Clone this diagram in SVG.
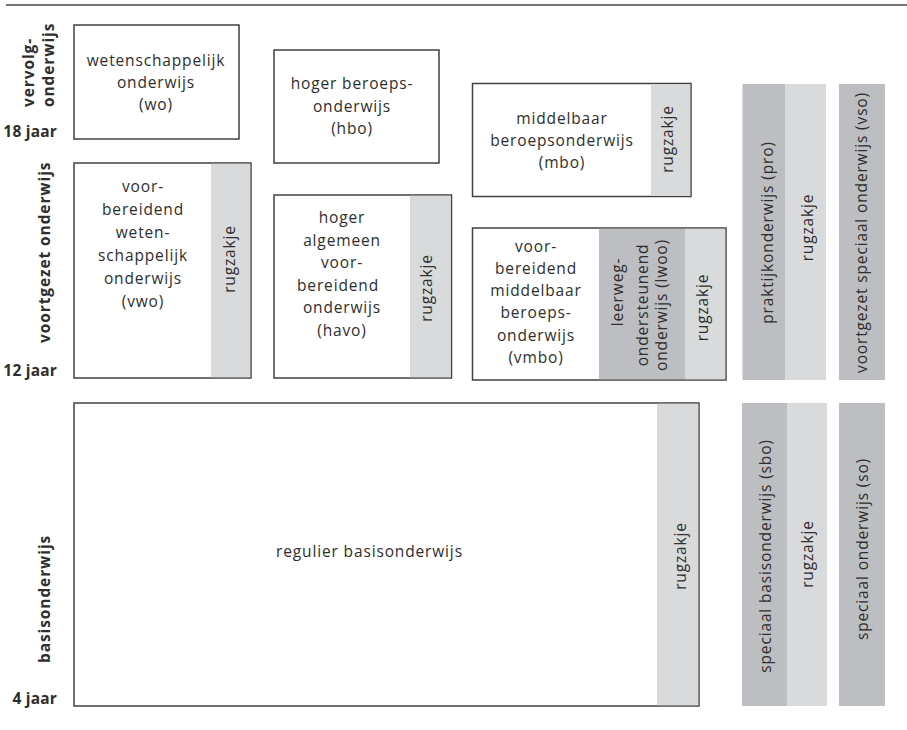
<svg xmlns="http://www.w3.org/2000/svg" width="907" height="730" viewBox="0 0 907 730">
  <style>
    .box { fill: #ffffff; stroke: #404040; stroke-width: 1.5; }
    .light { fill: #d9dadc; }
    .dark { fill: #bdbec1; }
    .t { font-family: "Open Sans", "Noto Sans", "Liberation Sans", sans-serif; font-size: 15.5px; letter-spacing: 0.85px; fill: #2e2e2e; text-anchor: middle; }
    .lbl { font-family: "Open Sans", "Noto Sans", "Liberation Sans", sans-serif; font-size: 15.5px; font-weight: bold; letter-spacing: 0.9px; fill: #2e2e2e; }
    .age { letter-spacing: 0.2px; text-anchor: end; }
  </style>

  <!-- top rule -->
  <line x1="6" y1="5" x2="907" y2="5" stroke="#444444" stroke-width="1.5"/>

  <!-- age axis labels -->
  <g id="axis">
    <text class="lbl" transform="translate(33.5,107) rotate(-90)">vervolg-</text>
    <text class="lbl" transform="translate(54,107) rotate(-90)">onderwijs</text>
    <text class="lbl age" x="57" y="137">18 jaar</text>
    <text class="lbl" transform="translate(50,343) rotate(-90)">voortgezet onderwijs</text>
    <text class="lbl age" x="57" y="376">12 jaar</text>
    <text class="lbl" transform="translate(50,663) rotate(-90)">basisonderwijs</text>
    <text class="lbl age" x="57" y="704">4 jaar</text>
  </g>

  <!-- higher education -->
  <g id="wo">
    <rect class="box" x="74" y="25" width="165" height="114"/>
    <text class="t" x="156" y="66">wetenschappelijk</text>
    <text class="t" x="156" y="88">onderwijs</text>
    <text class="t" x="156" y="110">(wo)</text>
  </g>

  <g id="hbo">
    <rect class="box" x="274" y="50" width="165" height="113"/>
    <text class="t" x="352" y="89">hoger beroeps-</text>
    <text class="t" x="352" y="111.5">onderwijs</text>
    <text class="t" x="352" y="134">(hbo)</text>
  </g>

  <g id="mbo">
    <rect class="box" x="472.5" y="83.5" width="218.5" height="113"/>
    <rect class="light" x="651" y="84.25" width="39.25" height="111.5"/>
    <text class="t" x="562" y="124">middelbaar</text>
    <text class="t" x="562" y="146">beroepsonderwijs</text>
    <text class="t" x="562" y="168">(mbo)</text>
    <text class="t" transform="translate(673,139) rotate(-90)">rugzakje</text>
  </g>

  <!-- secondary education -->
  <g id="vwo">
    <rect class="box" x="74" y="163" width="177" height="215"/>
    <rect class="light" x="211" y="163.75" width="39.25" height="213.5"/>
    <text class="t" x="143" y="191.5">voor-</text>
    <text class="t" x="143" y="214.5">bereidend</text>
    <text class="t" x="143" y="237.5">weten-</text>
    <text class="t" x="143" y="260.5">schappelijk</text>
    <text class="t" x="143" y="283.5">onderwijs</text>
    <text class="t" x="143" y="306.5">(vwo)</text>
    <text class="t" transform="translate(234.5,259) rotate(-90)">rugzakje</text>
  </g>

  <g id="havo">
    <rect class="box" x="274" y="195" width="177.5" height="183"/>
    <rect class="light" x="410" y="195.75" width="40.75" height="181.5"/>
    <text class="t" x="342" y="223">hoger</text>
    <text class="t" x="342" y="245.5">algemeen</text>
    <text class="t" x="342" y="268">voor-</text>
    <text class="t" x="338" y="290.5">bereidend</text>
    <text class="t" x="342" y="313">onderwijs</text>
    <text class="t" x="342" y="335.5">(havo)</text>
    <text class="t" transform="translate(431.5,288) rotate(-90)">rugzakje</text>
  </g>

  <g id="vmbo">
    <rect class="box" x="472.5" y="228" width="253.5" height="152"/>
    <rect class="dark" x="599" y="228.75" width="86" height="150.5"/>
    <rect class="light" x="685" y="228.75" width="40.25" height="150.5"/>
    <text class="t" x="536" y="251.5">voor-</text>
    <text class="t" x="536" y="273.5">bereidend</text>
    <text class="t" x="536" y="296">middelbaar</text>
    <text class="t" x="536" y="318">beroeps-</text>
    <text class="t" x="536" y="340.5">onderwijs</text>
    <text class="t" x="536" y="363">(vmbo)</text>
    <text class="t" transform="translate(623,292) rotate(-90)">leerweg-</text>
    <text class="t" transform="translate(647.5,305) rotate(-90)">ondersteunend</text>
    <text class="t" transform="translate(667,305) rotate(-90)">onderwijs (lwoo)</text>
    <text class="t" transform="translate(708,307.5) rotate(-90)">rugzakje</text>
  </g>

  <g id="pro">
    <rect class="dark" x="742.5" y="84" width="42.5" height="296"/>
    <rect class="light" x="785" y="84" width="41" height="296"/>
    <text class="t" transform="translate(773,232.5) rotate(-90)">praktijkonderwijs (pro)</text>
    <text class="t" transform="translate(813,227.5) rotate(-90)">rugzakje</text>
  </g>

  <g id="vso">
    <rect class="dark" x="839" y="84" width="46" height="296"/>
    <text class="t" transform="translate(866.5,232.5) rotate(-90)">voortgezet speciaal onderwijs (vso)</text>
  </g>

  <!-- primary education -->
  <g id="basis">
    <rect class="box" x="74" y="403" width="625" height="303"/>
    <rect class="light" x="657" y="403.75" width="41.25" height="301.5"/>
    <text class="t" x="369.5" y="556.5">regulier basisonderwijs</text>
    <text class="t" transform="translate(686,556) rotate(-90)">rugzakje</text>
  </g>

  <g id="sbo">
    <rect class="dark" x="742" y="403" width="45.5" height="303"/>
    <rect class="light" x="787.5" y="403" width="39.5" height="303"/>
    <text class="t" transform="translate(771,556) rotate(-90)">speciaal basisonderwijs (sbo)</text>
    <text class="t" transform="translate(813,554) rotate(-90)">rugzakje</text>
  </g>

  <g id="so">
    <rect class="dark" x="839" y="403" width="46" height="303"/>
    <text class="t" transform="translate(868,549) rotate(-90)">speciaal onderwijs (so)</text>
  </g>

  <g id="connectors"/>
</svg>
